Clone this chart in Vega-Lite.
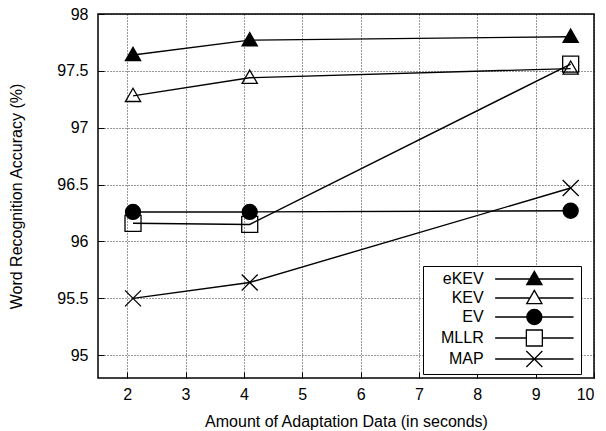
{
  "$schema": "https://vega.github.io/schema/vega-lite/v6.json",
  "width": 496,
  "height": 364,
  "autosize": {"type": "none"},
  "padding": {"left": 98, "top": 14, "right": 12, "bottom": 53},
  "background": "white",
  "config": {
    "font": "Liberation Sans",
    "view": {"stroke": "black", "strokeWidth": 1.5},
    "axis": {
      "labelFont": "Liberation Sans",
      "labelFontSize": 16,
      "labelColor": "black",
      "titleFont": "Liberation Sans",
      "titleFontSize": 16,
      "titleFontWeight": "normal",
      "titleColor": "black",
      "domain": false,
      "gridColor": "#000000",
      "gridDash": [1, 2],
      "gridWidth": 1,
      "gridOpacity": 0.8,
      "ticks": true,
      "tickColor": "black",
      "tickSize": -6,
      "tickWidth": 1
    },
    "legend": {
      "orient": "none",
      "legendX": 325,
      "legendY": 252,
      "padding": 4,
      "strokeColor": "black",
      "strokeWidth": 1,
      "fillColor": "white",
      "symbolSize": 256,
      "symbolStrokeWidth": 1.3,
      "labelAlign": "right",
      "labelOffset": -59.65,
      "symbolOffset": 98.35,
      "labelFont": "Liberation Sans",
      "labelFontSize": 16,
      "labelColor": "black",
      "labelLimit": 0,
      "rowPadding": -1,
      "titleFontSize": 0
    }
  },
  "data": {
    "values": [
      {"series": "eKEV", "seconds": 2.1, "accuracy": 97.64},
      {"series": "eKEV", "seconds": 4.1, "accuracy": 97.77},
      {"series": "eKEV", "seconds": 9.6, "accuracy": 97.80},
      {"series": "KEV", "seconds": 2.1, "accuracy": 97.28},
      {"series": "KEV", "seconds": 4.1, "accuracy": 97.44},
      {"series": "KEV", "seconds": 9.6, "accuracy": 97.52},
      {"series": "EV", "seconds": 2.1, "accuracy": 96.26},
      {"series": "EV", "seconds": 4.1, "accuracy": 96.26},
      {"series": "EV", "seconds": 9.6, "accuracy": 96.27},
      {"series": "MLLR", "seconds": 2.1, "accuracy": 96.16},
      {"series": "MLLR", "seconds": 4.1, "accuracy": 96.15},
      {"series": "MLLR", "seconds": 9.6, "accuracy": 97.56},
      {"series": "MAP", "seconds": 2.1, "accuracy": 95.50},
      {"series": "MAP", "seconds": 4.1, "accuracy": 95.64},
      {"series": "MAP", "seconds": 9.6, "accuracy": 96.47}
    ]
  },
  "encoding": {
    "x": {
      "field": "seconds",
      "type": "quantitative",
      "scale": {"domain": [1.5, 10], "nice": false, "zero": false},
      "axis": {
        "title": "Amount of Adaptation Data (in seconds)",
        "values": [2, 3, 4, 5, 6, 7, 8, 9, 10],
        "format": "d",
        "labelPadding": 14,
        "titleY": 48,
        "titleBaseline": "alphabetic"
      }
    },
    "y": {
      "field": "accuracy",
      "type": "quantitative",
      "scale": {"domain": [94.8, 98], "nice": false, "zero": false},
      "axis": {
        "title": "Word Recognition Accuracy (%)",
        "values": [95, 95.5, 96, 96.5, 97, 97.5, 98],
        "format": "~g",
        "labelPadding": 16,
        "titleX": -77,
        "titleBaseline": "alphabetic"
      }
    }
  },
  "layer": [
    {
      "mark": {"type": "line", "color": "black", "strokeWidth": 1.4},
      "encoding": {"detail": {"field": "series"}}
    },
    {
      "mark": {"type": "point", "filled": true, "stroke": "black", "strokeWidth": 1.3, "size": 256, "opacity": 1},
      "encoding": {
        "shape": {
          "field": "series",
          "scale": {
            "domain": ["eKEV", "KEV", "EV", "MLLR", "MAP"],
            "range": [
              "M0,-0.95L0.95,0.7L-0.95,0.7Z",
              "M0,-0.95L0.95,0.7L-0.95,0.7Z",
              "M-0.94,0A0.94,0.94 0 1,0 0.94,0A0.94,0.94 0 1,0 -0.94,0Z",
              "M-1,-1H1V1H-1Z",
              "M-1,-1L1,1M-1,1L1,-1"
            ]
          },
          "legend": null
        },
        "fill": {
          "field": "series",
          "scale": {
            "domain": ["eKEV", "KEV", "EV", "MLLR", "MAP"],
            "range": ["black", "transparent", "black", "transparent", "transparent"]
          },
          "legend": null
        }
      }
    },
    {
      "transform": [{"filter": "false"}],
      "mark": {"type": "point", "filled": true, "strokeWidth": 1.3, "size": 256, "opacity": 1},
      "encoding": {
        "shape": {
          "field": "series",
          "scale": {
            "domain": ["eKEV", "KEV", "EV", "MLLR", "MAP"],
            "range": [
              "M0,-0.95L0.95,0.7L-0.95,0.7ZM-4.9,0H4.9",
              "M0,-0.95L0.95,0.7L-0.95,0.7ZM-4.9,0H-0.55M0.55,0H4.9",
              "M-0.94,0A0.94,0.94 0 1,0 0.94,0A0.94,0.94 0 1,0 -0.94,0ZM-4.9,0H4.9",
              "M-1,-1H1V1H-1ZM-4.9,0H-1M1,0H4.9",
              "M-1,-1L1,1M-1,1L1,-1M-4.9,0H4.9"
            ]
          },
          "legend": {"title": null}
        },
        "fill": {
          "field": "series",
          "scale": {
            "domain": ["eKEV", "KEV", "EV", "MLLR", "MAP"],
            "range": ["black", "white", "black", "white", "white"]
          },
          "legend": {"title": null}
        },
        "stroke": {
          "field": "series",
          "scale": {
            "domain": ["eKEV", "KEV", "EV", "MLLR", "MAP"],
            "range": ["black", "black", "black", "black", "black"]
          },
          "legend": {"title": null}
        }
      }
    }
  ],
  "resolve": {"scale": {"shape": "independent", "fill": "independent", "stroke": "independent"}}
}
